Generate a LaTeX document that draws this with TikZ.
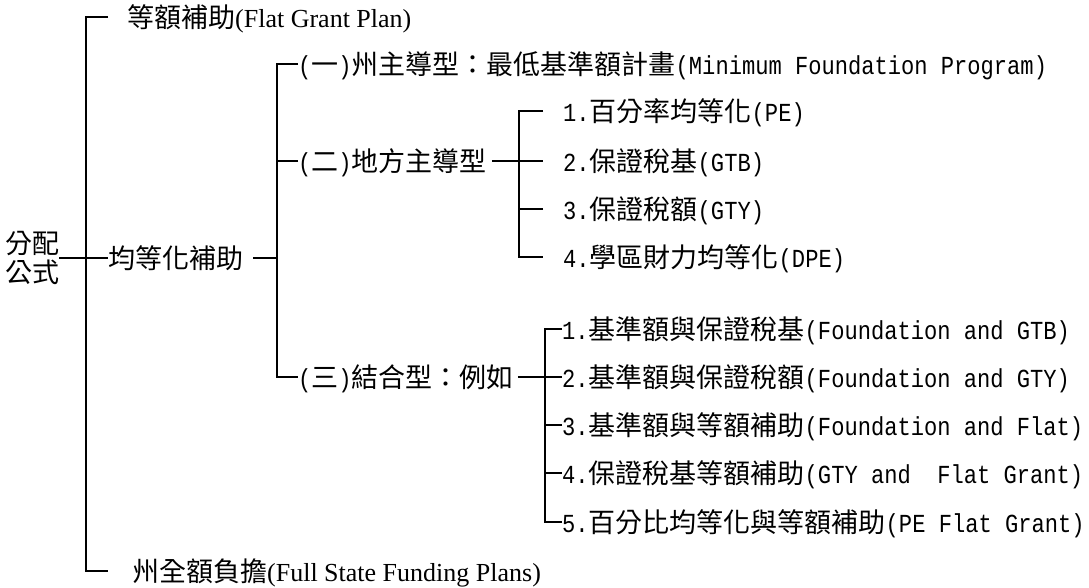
\documentclass[tikz,border=0pt]{standalone}
\usepackage{fontspec}
\setmainfont{Liberation Serif}
\newfontfamily\cjkfont{Noto Sans CJK TC}
\newfontfamily\monofont[FakeStretch=0.85]{Liberation Mono}
\newcommand\moT[1]{{\monofont\fontsize{26}{29}\selectfont #1}}
\newcommand\tmT[1]{{\rmfamily\fontsize{26}{29}\selectfont #1}}
\tikzset{
  lbl/.style={inner sep=0pt, anchor=west, text height=23pt, text depth=2.4pt,
              font=\cjkfont\fontsize{27}{29}\selectfont},
  conn/.style={line width=1.5pt, black},
}
\begin{document}
\begin{tikzpicture}[x=1pt,y=1pt]
\useasboundingbox (0,0) rectangle (1089,-588);
% nodes
\node[inner sep=0pt, anchor=west, align=left, font=\cjkfont\fontsize{27}{29}\selectfont] (root) at (5,-258) {分配\\公式};
\node[lbl] (flat) at (127,-17) {等額補助\tmT{(Flat Grant Plan)}};
\node[lbl] (full) at (132,-571) {州全額負擔\tmT{(Full State Funding Plans)}};
\node[lbl] (eq) at (108,-258) {均等化補助};
\node[lbl] (a1) at (298,-64) {\moT{(}一\moT{)}州主導型：最低基準額計畫\moT{(Minimum Foundation Program)}};
\node[lbl] (a2) at (298,-161) {\moT{(}二\moT{)}地方主導型};
\node[lbl] (a3) at (298,-377) {\moT{(}三\moT{)}結合型：例如};
\node[lbl] (p1) at (563,-111) {\moT{1.}百分率均等化\moT{(PE)}};
\node[lbl] (p2) at (563,-161) {\moT{2.}保證稅基\moT{(GTB)}};
\node[lbl] (p3) at (563,-209) {\moT{3.}保證稅額\moT{(GTY)}};
\node[lbl] (p4) at (563,-257) {\moT{4.}學區財力均等化\moT{(DPE)}};
\node[lbl] (c1) at (562,-329) {\moT{1.}基準額與保證稅基\moT{(Foundation and GTB)}};
\node[lbl] (c2) at (562,-377) {\moT{2.}基準額與保證稅額\moT{(Foundation and GTY)}};
\node[lbl] (c3) at (562,-425) {\moT{3.}基準額與等額補助\moT{(Foundation and Flat)}};
\node[lbl] (c4) at (562,-473) {\moT{4.}保證稅基等額補助\moT{(GTY and\ \ Flat Grant)}};
\node[lbl] (c5) at (562,-522) {\moT{5.}百分比均等化與等額補助\moT{(PE Flat Grant)}};
% spine coordinates
\coordinate (sp2) at ([xshift=-21pt]a2.west);
% top-level bracket
\draw[conn] ([xshift=-19pt]flat.west) -| ([xshift=-46pt]full.west) -- ([xshift=-24pt]full.west);
\draw[conn] (root.east) -- (eq.west);
% second level
\draw[conn] ([xshift=10pt]eq.east) -- (eq.east -| sp2);
\draw[conn] (a1.west) -| ([xshift=-21pt]a3.west) -- (a3.west);
\draw[conn] (a2.west) -- (sp2);
% third level (local)
\draw[conn] ([xshift=-20pt]p1.west) -| ([xshift=-44pt]p4.west) -- ([xshift=-20pt]p4.west);
\draw[conn] ([xshift=-20pt]p3.west) -- ++(-24pt,0);
\draw[conn] ([xshift=5pt]a2.east) -- ([xshift=-20pt]p2.west);
% third level (combined)
\draw[conn] (c1.west) -| ([xshift=-17pt]c5.west) -- (c5.west);
\draw[conn] (c3.west) -- ++(-17pt,0);
\draw[conn] (c4.west) -- ++(-17pt,0);
\draw[conn] ([xshift=4pt]a3.east) -- (c2.west);
\end{tikzpicture}
\end{document}
